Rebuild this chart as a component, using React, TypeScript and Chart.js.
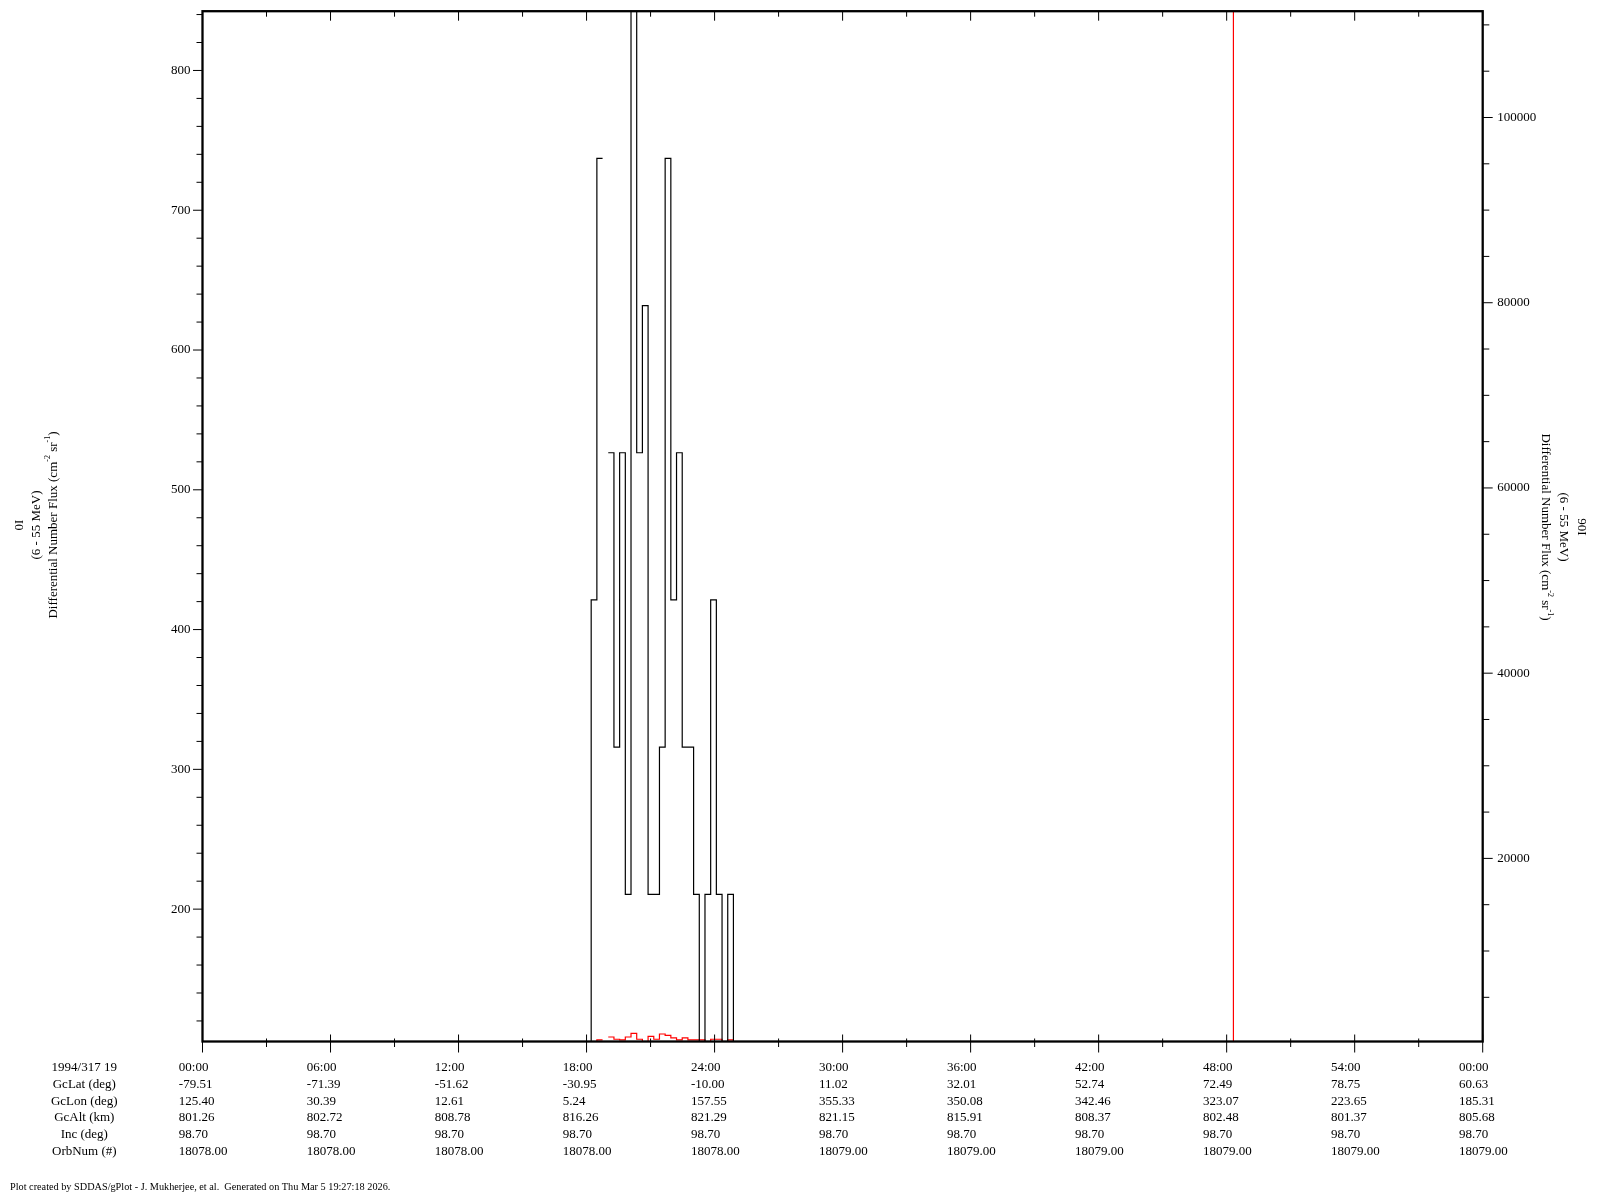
import { useEffect, useRef } from "react";
import { Chart, registerables } from "chart.js";

Chart.register(...registerables);

// ---- data (seconds after 19:00 UT, 16 s accumulation bins) ----
const binStartSec = [
  1077, 1093, 1109, 1125, 1141, 1157, 1173, 1189, 1205, 1221, 1237, 1253, 1269,
  1285, 1301, 1317, 1333, 1349, 1365, 1381, 1397, 1413, 1429, 1445, 1461, 1477, 1493,
];
const binEndSec = 1509;

// 0I (left axis)
const flux0I: (number | null)[] = [
  0, 421.2, 737.1, null, 526.5, 315.9, 526.5, 210.6, 1053.0, 526.5, 631.8, 210.6, 210.6,
  315.9, 737.1, 421.2, 526.5, 315.9, 315.9, 210.6, 0, 210.6, 421.2, 210.6, 0, 210.6, 0,
];

// 90I (right axis)
const flux90I: (number | null)[] = [
  0, 0, 400, null, 715, 470, 400, 715, 1110, 470, 0, 790, 470,
  1040, 900, 610, 400, 610, 400, 400, 400, 0, 470, 470, 0, 400, 0,
];

// 90I spike near 19:48:19
const spikeStartSec = [2883, 2899];
const spikeEndSec = 2915;
const spike90I = [0, 120000];

// ---- axes ----
const xMajorTicks = [0, 6, 12, 18, 24, 30, 36, 42, 48, 54, 60];
const timeLabels = ["00:00", "06:00", "12:00", "18:00", "24:00", "30:00", "36:00", "42:00", "48:00", "54:00", "00:00"];
const gcLat = ["-79.51", "-71.39", "-51.62", "-30.95", "-10.00", "11.02", "32.01", "52.74", "72.49", "78.75", "60.63"];
const gcLon = ["125.40", "30.39", "12.61", "5.24", "157.55", "355.33", "350.08", "342.46", "323.07", "223.65", "185.31"];
const gcAlt = ["801.26", "802.72", "808.78", "816.26", "821.29", "821.15", "815.91", "808.37", "802.48", "801.37", "805.68"];
const incDeg = ["98.70", "98.70", "98.70", "98.70", "98.70", "98.70", "98.70", "98.70", "98.70", "98.70", "98.70"];
const orbNum = ["18078.00", "18078.00", "18078.00", "18078.00", "18078.00", "18079.00", "18079.00", "18079.00", "18079.00", "18079.00", "18079.00"];
const rowLabels = ["1994/317 19", "GcLat (deg)", "GcLon (deg)", "GcAlt (km)", "Inc (deg)", "OrbNum (#)"];

const leftTicks = [200, 300, 400, 500, 600, 700, 800];
const rightTicks = [20000, 40000, 60000, 80000, 100000];
const leftMin = 105.3;
const leftMax = 842.4;
const rightMin = 229;
const rightMax = 111478;

const FONT = "'Liberation Serif', 'Times New Roman', serif";
const LINE_H = 16.8;
const X_PAD = 17.6;

function buildSteps(starts: number[], values: (number | null)[], end: number) {
  const pts: { x: number; y: number | null }[] = [];
  for (let i = 0; i < starts.length; i++) {
    const s = starts[i] / 60;
    const e = (i + 1 < starts.length ? starts[i + 1] : end) / 60;
    const v = values[i];
    if (v === null) {
      pts.push({ x: s, y: null });
    } else {
      pts.push({ x: s, y: v });
      pts.push({ x: e, y: v });
    }
  }
  return pts;
}

type Part = { t: string; sup?: boolean };

function drawRich(ctx: CanvasRenderingContext2D, parts: Part[], cx: number, cy: number, angle: number) {
  const main = `13px ${FONT}`;
  const sup = `8px ${FONT}`;
  ctx.save();
  ctx.translate(cx, cy);
  ctx.rotate(angle);
  let w = 0;
  for (const p of parts) {
    ctx.font = p.sup ? sup : main;
    w += ctx.measureText(p.t).width;
  }
  let xx = -w / 2;
  ctx.textAlign = "left";
  ctx.textBaseline = "middle";
  ctx.fillStyle = "#000";
  for (const p of parts) {
    ctx.font = p.sup ? sup : main;
    ctx.fillText(p.t, xx, p.sup ? -5 : 0);
    xx += ctx.measureText(p.t).width;
  }
  ctx.restore();
}

const fluxTitle: Part[] = [
  { t: "Differential Number Flux (cm" },
  { t: "-2", sup: true },
  { t: " sr" },
  { t: "-1", sup: true },
  { t: ")" },
];

const decoPlugin = {
  id: "deco",
  afterDraw(chart: any) {
    const { ctx, chartArea: a, scales } = chart;
    const xs = scales.x;
    const yl = scales.y;
    const yr = scales.y2;
    ctx.save();
    ctx.strokeStyle = "#000";
    ctx.lineWidth = 1;
    const seg = (x1: number, y1: number, x2: number, y2: number) => {
      ctx.beginPath();
      ctx.moveTo(x1, y1);
      ctx.lineTo(x2, y2);
      ctx.stroke();
    };
    // x ticks (major every 6 min, minor every 3 min)
    for (let m = 0; m <= 60; m += 3) {
      const px = xs.getPixelForValue(m);
      const major = m % 6 === 0;
      seg(px, a.bottom - (major ? 7 : 3), px, a.bottom + (major ? 11 : 5.5));
      seg(px, a.top, px, a.top + (major ? 9.5 : 5.5));
    }
    // left ticks
    for (let v = 120; v <= leftMax; v += 20) {
      const py = yl.getPixelForValue(v);
      const major = v % 100 === 0;
      seg(a.left - (major ? 9.5 : 6), py, a.left, py);
    }
    // right ticks
    for (let v = 5000; v <= rightMax; v += 5000) {
      const py = yr.getPixelForValue(v);
      const major = v % 20000 === 0;
      seg(a.right, py, a.right + (major ? 10 : 6.6), py);
    }
    // frame
    ctx.lineWidth = 2.3;
    ctx.strokeRect(a.left, a.top, a.right - a.left, a.bottom - a.top);

    // row labels under the x axis
    ctx.fillStyle = "#000";
    ctx.font = `13px ${FONT}`;
    ctx.textAlign = "center";
    ctx.textBaseline = "middle";
    const y0 = a.bottom + X_PAD + LINE_H / 2;
    rowLabels.forEach((t, i) => ctx.fillText(t, 84.3, y0 + i * LINE_H));

    // footer
    ctx.font = `10.25px ${FONT}`;
    ctx.textAlign = "left";
    ctx.fillText(
      "Plot created by SDDAS/gPlot - J. Mukherjee, et al.  Generated on Thu Mar 5 19:27:18 2026.",
      10,
      1187.5
    );
    ctx.restore();

    // axis titles
    drawRich(ctx, [{ t: "0I" }], 20, 525, -Math.PI / 2);
    drawRich(ctx, [{ t: "(6 - 55 MeV)" }], 37, 525, -Math.PI / 2);
    drawRich(ctx, fluxTitle, 53.3, 525, -Math.PI / 2);
    drawRich(ctx, [{ t: "90I" }], 1581.7, 527, Math.PI / 2);
    drawRich(ctx, [{ t: "(6 - 55 MeV)" }], 1563.3, 527, Math.PI / 2);
    drawRich(ctx, fluxTitle, 1545, 527, Math.PI / 2);
  },
};

export default function App() {
  const ref = useRef<HTMLCanvasElement | null>(null);

  useEffect(() => {
    document.body.style.margin = "0";
    const canvas = ref.current;
    if (!canvas) return;
    Chart.defaults.font.family = FONT;
    Chart.defaults.color = "#000";

    const blackPts = buildSteps(binStartSec, flux0I, binEndSec);
    const redPts = [
      ...buildSteps(binStartSec, flux90I, binEndSec),
      { x: binEndSec / 60 + 0.01, y: null },
      ...buildSteps(spikeStartSec, spike90I, spikeEndSec),
    ];

    const chart = new Chart(canvas, {
      type: "line",
      data: {
        datasets: [
          {
            label: "0I",
            data: blackPts as any,
            yAxisID: "y",
            borderColor: "#000000",
            borderWidth: 1.2,
            pointRadius: 0,
            tension: 0,
            spanGaps: false,
          },
          {
            label: "90I",
            data: redPts as any,
            yAxisID: "y2",
            borderColor: "#ff0000",
            borderWidth: 1.2,
            pointRadius: 0,
            tension: 0,
            spanGaps: false,
          },
        ],
      },
      plugins: [decoPlugin],
      options: {
        animation: false,
        responsive: false,
        devicePixelRatio: 1,
        layout: { padding: { top: 11.2, left: 0, right: 0, bottom: 0 } },
        plugins: {
          legend: { display: false },
          tooltip: { enabled: false },
          title: { display: false },
        },
        scales: {
          x: {
            type: "linear",
            position: "bottom",
            min: 0,
            max: 60,
            grid: { display: false, drawTicks: false },
            border: { display: false },
            afterBuildTicks: (s: any) => {
              s.ticks = xMajorTicks.map((v) => ({ value: v }));
            },
            afterFit: (s: any) => {
              s.height = 1200 - 1041.5;
            },
            ticks: {
              autoSkip: false,
              maxRotation: 0,
              minRotation: 0,
              align: "start",
              labelOffset: -23.7,
              padding: X_PAD,
              font: { family: FONT, size: 13, lineHeight: LINE_H / 13 },
              color: "#000",
              callback: (_v: any, i: number) => [
                timeLabels[i],
                gcLat[i],
                gcLon[i],
                gcAlt[i],
                incDeg[i],
                orbNum[i],
              ],
            },
          },
          y: {
            type: "linear",
            position: "left",
            min: leftMin,
            max: leftMax,
            grid: { display: false, drawTicks: true, tickLength: 12 },
            border: { display: false },
            afterBuildTicks: (s: any) => {
              s.ticks = leftTicks.map((v) => ({ value: v }));
            },
            afterFit: (s: any) => {
              s.width = 202.5;
            },
            ticks: {
              padding: 0,
              font: { family: FONT, size: 13 },
              color: "#000",
              callback: (v: any) => String(v),
            },
          },
          y2: {
            type: "linear",
            position: "right",
            min: rightMin,
            max: rightMax,
            grid: { display: false, drawTicks: true, tickLength: 14.6 },
            border: { display: false },
            afterBuildTicks: (s: any) => {
              s.ticks = rightTicks.map((v) => ({ value: v }));
            },
            afterFit: (s: any) => {
              s.width = 1600 - 1482.7;
            },
            ticks: {
              padding: 0,
              font: { family: FONT, size: 13 },
              color: "#000",
              callback: (v: any) => String(v),
            },
          },
        },
      },
    });
    return () => chart.destroy();
  }, []);

  return (
    <div style={{ position: "absolute", left: 0, top: 0, width: 1600, height: 1200, background: "#fff" }}>
      <canvas ref={ref} width={1600} height={1200} style={{ display: "block", width: 1600, height: 1200 }} />
    </div>
  );
}
